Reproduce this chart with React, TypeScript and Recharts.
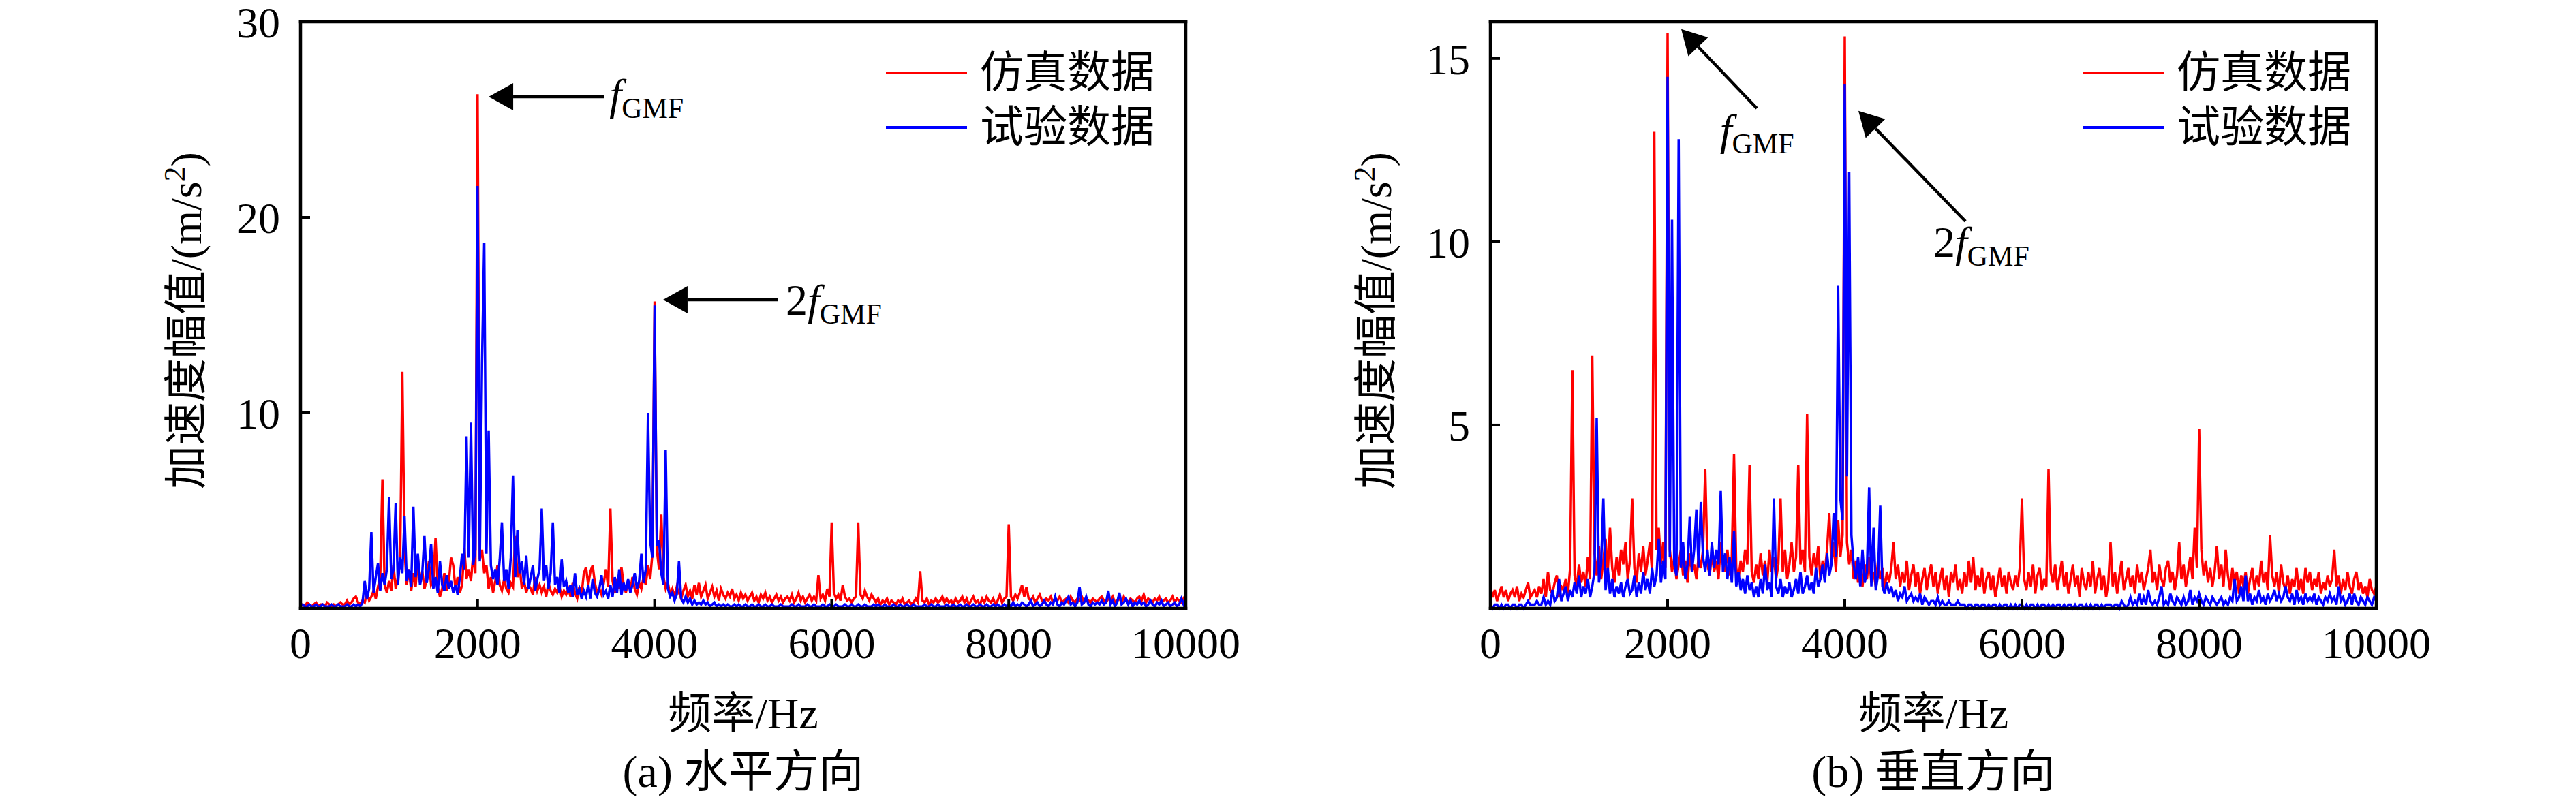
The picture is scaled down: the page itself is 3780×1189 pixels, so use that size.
import React from "react";
import {
  LineChart,
  Line,
  XAxis,
  YAxis,
  Legend,
  ReferenceLine,
  ReferenceDot
} from "recharts";

const SERIF = "'Liberation Serif', 'Times New Roman', 'Noto Sans CJK SC', serif";

// spectra are sampled on a 25 Hz grid, 0 .. 10000 Hz (401 bins)
const FREQ_STEP = 25;
const FREQ_TICKS = [0, 2000, 4000, 6000, 8000, 10000];
const SERIES_NAMES = ["仿真数据", "试验数据"];
const SERIES_COLORS = ["#ff0000", "#0000ff"];

const H_TICKS = [10, 20, 30];
const V_TICKS = [5, 10, 15];

// (a) horizontal direction, simulated
const hSim = [
  0.1, 0.2, 0.1, 0.3, 0.2, 0.1, 0.2, 0.3, 0.1, 0.2, 0.2, 0.1, 0.3, 0.2, 0.1, 0.2, 0.1, 0.2, 0.3, 0.2,
  0.2, 0.4, 0.2, 0.3, 0.5, 0.6, 0.3, 0.2, 0.4, 0.3, 0.8, 0.4, 0.6, 0.9, 0.5, 1.1, 1.6, 6.6, 1.2, 0.8,
  1.4, 0.9, 2.2, 1.0, 1.6, 2.4, 12.1, 3.0, 1.2, 2.0, 0.9, 1.8, 1.1, 2.6, 1.3, 1.9, 1.0, 1.5, 2.4, 1.2,
  1.4, 3.6, 1.1, 0.6, 1.0, 1.8, 0.9, 1.3, 2.6, 2.2, 1.0, 1.6, 0.8, 1.2, 3.1, 1.5, 2.0, 1.4, 2.7, 1.8,
  26.3, 2.5, 3.0, 1.8, 2.2, 1.0, 1.6, 0.8, 1.4, 2.2, 1.2, 0.9, 1.5, 1.0, 0.8, 1.3, 1.1, 3.7, 1.6, 2.2,
  1.0, 1.4, 0.8, 1.2, 1.0, 0.7, 1.6, 0.9, 1.2, 0.8, 1.1, 0.6, 1.3, 0.9, 0.7, 1.0, 0.8, 1.1, 0.6, 0.9,
  0.7, 1.0, 0.6, 1.3, 0.8, 0.5, 1.1, 0.7, 1.8, 2.1, 1.2, 1.9, 2.2, 1.3, 0.8, 1.0, 0.7, 1.3, 2.0, 1.1,
  5.1, 1.4, 0.8, 1.5, 1.0, 2.1, 1.2, 0.8, 1.4, 0.9, 1.6, 1.0, 0.7, 1.3, 1.0, 1.6, 1.2, 2.2, 1.5, 2.8,
  15.7, 3.0, 2.0, 4.8, 1.6, 1.0, 1.3, 0.7, 1.0, 0.6, 1.1, 0.8, 0.5, 0.9, 1.2, 0.6, 0.9, 0.5, 1.2, 0.7,
  1.3, 0.6, 0.9, 1.2, 0.5, 0.8, 1.1, 0.6, 0.9, 0.4, 1.0, 0.7, 0.5, 0.8, 0.6, 1.0, 0.5, 0.7, 0.4, 0.8,
  0.5, 0.7, 0.4, 0.6, 0.8, 0.4, 0.6, 0.3, 0.7, 0.5, 0.8, 0.4, 0.6, 0.3, 0.5, 0.7, 0.4, 0.6, 0.3, 0.5,
  0.6, 0.4, 0.7, 0.3, 0.5, 0.8, 0.4, 0.6, 0.3, 0.5, 0.7, 0.4, 0.6, 0.4, 1.7, 0.5, 0.7, 0.4, 1.0, 0.6,
  4.4, 0.8, 0.5, 0.7, 0.4, 1.2, 0.6, 0.4, 0.5, 0.3, 0.5, 0.6, 4.4, 0.7, 0.5, 0.9, 0.6, 0.4, 0.7, 0.5,
  0.3, 0.5, 0.2, 0.4, 0.3, 0.5, 0.2, 0.4, 0.3, 0.2, 0.4, 0.3, 0.5, 0.2, 0.3, 0.4, 0.2, 0.3, 0.5, 0.3,
  1.9, 0.4, 0.3, 0.5, 0.2, 0.4, 0.3, 0.5, 0.3, 0.4, 0.6, 0.3, 0.5, 0.3, 0.4, 0.2, 0.5, 0.3, 0.4, 0.6,
  0.3, 0.5, 0.2, 0.4, 0.6, 0.3, 0.4, 0.2, 0.5, 0.3, 0.6, 0.4, 0.3, 0.5, 0.2, 0.4, 0.7, 0.3, 0.5, 0.6,
  4.3, 0.6, 0.4, 0.7, 0.5, 0.8, 1.2, 0.6, 1.1, 0.5, 0.4, 0.6, 0.3, 0.5, 0.7, 0.4, 0.3, 0.5, 0.4, 0.6,
  0.3, 0.5, 0.4, 0.6, 0.3, 0.4, 0.5, 0.3, 0.6, 0.4, 0.3, 0.5, 0.4, 0.6, 0.3, 0.5, 0.4, 0.3, 0.5, 0.4,
  0.3, 0.5, 0.6, 0.4, 0.3, 0.5, 0.4, 0.6, 0.3, 0.4, 0.5, 0.3, 0.6, 0.4, 0.3, 0.5, 0.4, 0.3, 0.5, 0.6,
  0.4, 0.7, 0.3, 0.5, 0.4, 0.3, 0.5, 0.4, 0.6, 0.3, 0.4, 0.5, 0.3, 0.4, 0.6, 0.3, 0.5, 0.4, 0.3, 0.5,
  0.7
];

// (a) horizontal direction, measured
const hMeas = [
  0.1, 0.2, 0.1, 0.1, 0.2, 0.1, 0.1, 0.2, 0.1, 0.1, 0.2, 0.1, 0.1, 0.1, 0.2, 0.1, 0.1, 0.2, 0.1, 0.1,
  0.1, 0.2, 0.1, 0.1, 0.2, 0.1, 0.2, 0.1, 0.3, 1.4, 0.5, 1.0, 3.9, 0.8, 1.6, 2.3, 0.9, 1.8, 1.2, 2.0,
  5.7, 1.5, 2.0, 5.4, 1.2, 2.6, 1.8, 4.7, 1.4, 2.0, 1.1, 5.2, 1.6, 2.8, 1.2, 1.8, 3.7, 1.3, 2.0, 3.3,
  1.0, 1.6, 0.8, 2.4, 1.2, 0.9, 1.7, 1.0, 1.4, 0.8, 1.2, 0.7, 1.6, 2.8, 2.0, 8.8, 2.6, 9.5, 2.2, 3.0,
  21.6, 2.4, 12.5, 18.7, 2.8, 9.1, 2.2, 1.5, 2.0, 1.2, 2.5, 4.4, 1.4, 2.0, 1.0, 2.6, 6.8, 1.6, 4.0, 1.8,
  2.4, 1.2, 2.7, 1.0, 1.6, 2.2, 0.9, 1.5, 2.0, 5.1, 1.4, 2.2, 1.0, 1.8, 4.4, 1.2, 1.6, 0.8, 2.5, 1.1,
  1.4, 0.8, 1.2, 0.6, 1.8, 0.7, 1.0, 0.5, 0.9, 0.6, 1.2, 0.5, 1.5, 0.8, 0.6, 1.0, 1.7, 0.7, 0.9, 0.5,
  1.2, 0.6, 1.6, 0.8, 2.0, 0.7, 1.3, 0.9, 1.5, 0.8, 1.2, 1.8, 1.0, 1.4, 2.8, 1.3, 2.0, 10.0, 3.4, 2.6,
  15.5, 3.2, 3.5, 1.8, 1.2, 8.1, 1.0, 0.6, 0.8, 0.4, 0.7, 2.4, 0.5, 0.3, 0.6, 0.3, 0.5, 0.2, 0.4, 0.2,
  0.3, 0.2, 0.4, 0.2, 0.3, 0.1, 0.2, 0.3, 0.1, 0.2, 0.1, 0.2, 0.1, 0.2, 0.1, 0.1, 0.2, 0.1, 0.2, 0.1,
  0.1, 0.2, 0.1, 0.1, 0.2, 0.1, 0.1, 0.2, 0.1, 0.1, 0.2, 0.1, 0.1, 0.2, 0.1, 0.1, 0.1, 0.2, 0.1, 0.1,
  0.1, 0.1, 0.2, 0.1, 0.1, 0.2, 0.1, 0.1, 0.1, 0.2, 0.1, 0.1, 0.2, 0.1, 0.1, 0.1, 0.2, 0.1, 0.1, 0.2,
  0.1, 0.1, 0.2, 0.1, 0.1, 0.1, 0.2, 0.1, 0.1, 0.2, 0.1, 0.1, 0.2, 0.1, 0.1, 0.2, 0.1, 0.1, 0.1, 0.2,
  0.1, 0.2, 0.1, 0.1, 0.2, 0.1, 0.1, 0.1, 0.2, 0.1, 0.1, 0.2, 0.1, 0.1, 0.2, 0.1, 0.1, 0.2, 0.1, 0.1,
  0.1, 0.1, 0.2, 0.1, 0.1, 0.2, 0.1, 0.1, 0.2, 0.1, 0.1, 0.1, 0.2, 0.1, 0.1, 0.2, 0.1, 0.1, 0.2, 0.1,
  0.1, 0.2, 0.1, 0.1, 0.2, 0.1, 0.1, 0.2, 0.1, 0.1, 0.2, 0.1, 0.1, 0.2, 0.1, 0.2, 0.1, 0.1, 0.2, 0.1,
  0.2, 0.1, 0.3, 0.1, 0.2, 0.1, 0.3, 0.2, 0.1, 0.2, 0.4, 0.1, 0.2, 0.3, 0.1, 0.2, 0.4, 0.2, 0.1, 0.3,
  0.2, 0.6, 0.2, 0.1, 0.3, 0.2, 0.4, 0.6, 0.2, 0.3, 0.1, 0.3, 1.1, 0.2, 0.3, 0.6, 0.2, 0.1, 0.3, 0.2,
  0.3, 0.2, 0.4, 0.2, 0.3, 0.9, 0.2, 0.4, 0.1, 0.3, 0.8, 0.2, 0.3, 0.5, 0.2, 0.4, 0.1, 0.3, 0.2, 0.4,
  0.2, 0.3, 0.1, 0.2, 0.4, 0.2, 0.1, 0.3, 0.2, 0.4, 0.1, 0.2, 0.3, 0.1, 0.2, 0.3, 0.1, 0.2, 0.5, 0.2,
  0.6
];

// (b) vertical direction, simulated
const vSim = [
  0.6, 0.3, 0.5, 0.2, 0.4, 0.6, 0.3, 0.5, 0.2, 0.4, 0.5, 0.3, 0.6, 0.2, 0.4, 0.3, 0.5, 0.7, 0.3, 0.4,
  0.5, 0.3, 0.6, 0.4, 0.8, 0.3, 1.0, 0.5, 0.4, 0.7, 0.9, 0.3, 0.6, 0.5, 0.8, 0.4, 1.1, 6.5, 0.9, 0.6,
  1.2, 0.7, 1.0, 0.6, 1.4, 0.8, 6.9, 1.5, 0.9, 1.7, 0.8, 1.3, 1.9, 1.0, 2.2, 1.1, 0.7, 1.4, 0.9, 1.6,
  1.2, 1.8, 0.8, 1.3, 3.0, 1.1, 0.7, 1.5, 1.0, 1.7, 0.9, 1.3, 1.8, 1.0, 13.0, 1.6, 2.2, 1.2, 1.8, 1.1,
  15.7, 1.6, 1.0, 1.4, 0.8, 1.2, 1.6, 0.9, 1.3, 0.7, 1.5, 1.0, 1.2, 0.8, 1.4, 1.1, 1.6, 3.8, 1.2, 0.9,
  1.5, 1.0, 1.3, 0.8, 1.8, 1.2, 1.0, 1.6, 0.9, 1.4, 4.2, 1.1, 0.8, 1.3, 1.0, 1.6, 1.2, 3.9, 1.0, 0.7,
  1.2, 0.8, 1.5, 0.9, 1.3, 0.7, 1.6, 1.0, 1.4, 0.8, 1.2, 3.0, 1.0, 1.6, 0.8, 1.2, 1.8, 1.0, 1.4, 3.9,
  1.2, 1.6, 1.0, 5.3, 1.4, 0.9, 1.5, 1.1, 1.7, 0.8, 1.3, 1.0, 1.6, 2.6, 1.2, 1.8, 1.0, 2.4, 1.4, 2.0,
  15.6, 1.8, 1.2, 1.6, 0.8, 1.3, 0.7, 1.1, 0.6, 1.2, 0.8, 1.4, 0.7, 1.0, 0.6, 1.3, 0.8, 1.1, 0.5, 1.0,
  0.7, 1.1, 1.8, 0.8, 1.2, 0.6, 1.0, 0.7, 1.3, 0.5, 0.9, 1.2, 0.6, 1.0, 0.4, 0.8, 1.1, 0.5, 0.9, 1.2,
  0.6, 1.0, 0.4, 0.8, 1.1, 0.5, 0.9, 0.3, 1.0, 0.7, 1.2, 0.5, 0.8, 0.4, 1.0, 0.6, 1.3, 0.7, 1.4, 0.5,
  0.9, 0.6, 1.1, 0.4, 0.8, 1.0, 0.5, 0.9, 0.3, 0.7, 1.1, 0.6, 0.9, 0.4, 1.0, 0.7, 0.5, 0.9, 0.6, 1.1,
  3.0, 0.8, 0.5, 1.0, 0.6, 1.2, 0.4, 0.9, 1.1, 0.5, 0.8, 0.6, 3.8, 1.0, 0.7, 1.2, 0.5, 0.9, 1.3, 0.6,
  1.0, 0.4, 0.8, 1.2, 0.6, 0.9, 0.3, 1.1, 0.7, 0.5, 1.0, 0.6, 1.3, 0.4, 0.8, 1.1, 0.5, 0.9, 0.3, 0.7,
  1.8, 0.6, 1.0, 0.4, 0.9, 1.3, 0.5, 0.8, 1.1, 0.6, 0.9, 0.4, 1.2, 0.7, 1.0, 0.5, 0.8, 1.1, 1.6, 0.7,
  1.0, 0.5, 1.2, 0.8, 0.6, 1.1, 1.3, 0.7, 1.0, 0.5, 0.9, 1.8, 0.8, 1.2, 0.6, 1.0, 1.4, 0.8, 2.2, 1.1,
  4.9, 1.6, 0.9, 1.3, 0.7, 1.1, 0.6, 1.0, 1.7, 0.8, 1.2, 0.6, 1.6, 0.9, 0.5, 1.1, 0.7, 1.0, 0.4, 0.9,
  0.6, 1.0, 0.4, 0.8, 1.1, 0.5, 0.9, 0.6, 1.3, 0.7, 1.0, 0.5, 2.0, 0.9, 0.6, 1.0, 0.4, 1.2, 0.7, 0.5,
  0.9, 0.4, 0.8, 0.6, 1.1, 0.5, 0.8, 0.4, 1.1, 0.7, 1.0, 0.5, 0.8, 0.6, 1.0, 0.4, 0.7, 0.5, 0.9, 0.6,
  0.8, 1.6, 0.6, 0.9, 0.4, 0.8, 0.5, 1.0, 0.6, 0.4, 0.8, 1.0, 0.5, 0.7, 0.4, 0.6, 0.3, 0.8, 0.5, 0.4,
  0.6
];

// (b) vertical direction, measured
const vMeas = [
  0.1, 0.0, 0.1, 0.1, 0.0, 0.1, 0.0, 0.1, 0.1, 0.0, 0.1, 0.1, 0.0, 0.1, 0.1, 0.0, 0.1, 0.2, 0.1, 0.1,
  0.1, 0.2, 0.1, 0.1, 0.3, 0.1, 0.2, 0.1, 0.5, 0.2, 0.3, 0.8, 0.2, 0.4, 0.6, 0.2, 0.5, 0.3, 0.7, 0.4,
  0.9, 0.3, 0.6, 0.4, 0.8, 0.3, 0.6, 1.0, 5.2, 0.7, 1.2, 3.0, 0.5, 1.1, 0.4, 0.8, 0.3, 0.6, 0.4, 0.7,
  0.3, 0.6, 0.8, 0.4, 0.5, 0.9, 0.3, 0.7, 0.4, 1.0, 0.5, 0.8, 0.4, 1.1, 0.6, 0.9, 1.9, 0.7, 1.3, 0.8,
  14.5, 1.4, 10.6, 1.2, 0.9, 12.8, 1.1, 1.8, 0.8, 1.2, 2.5, 1.0, 1.6, 2.7, 1.1, 2.9, 1.4, 1.0, 1.6, 0.9,
  1.8, 1.1, 1.6, 1.2, 3.2, 1.0, 1.5, 0.8, 1.4, 0.7, 2.1, 0.6, 1.0, 0.5, 0.8, 0.4, 0.9, 0.5, 0.7, 0.3,
  0.6, 0.3, 0.8, 0.4, 1.2, 0.5, 0.7, 0.3, 3.0, 0.6, 0.4, 0.8, 0.3, 0.6, 0.4, 0.7, 0.3, 0.5, 0.8, 0.4,
  1.0, 0.4, 0.6, 0.9, 0.5, 0.7, 0.4, 1.1, 0.6, 0.8, 1.2, 0.7, 1.5, 0.9, 1.2, 2.6, 1.4, 8.8, 3.0, 2.4,
  14.3, 3.6, 11.9, 2.0, 1.2, 0.8, 1.4, 0.6, 1.6, 0.7, 1.0, 3.3, 0.6, 2.2, 0.5, 0.9, 2.8, 0.6, 0.4, 0.7,
  0.4, 0.6, 0.3, 0.5, 0.2, 0.4, 0.3, 0.6, 0.2, 0.3, 0.4, 0.2, 0.3, 0.2, 0.4, 0.1, 0.3, 0.2, 0.1, 0.2,
  0.2, 0.1, 0.3, 0.1, 0.2, 0.1, 0.1, 0.2, 0.1, 0.1, 0.1, 0.2, 0.1, 0.1, 0.1, 0.0, 0.1, 0.1, 0.0, 0.1,
  0.1, 0.0, 0.1, 0.1, 0.0, 0.1, 0.0, 0.1, 0.1, 0.0, 0.1, 0.0, 0.1, 0.1, 0.0, 0.1, 0.0, 0.1, 0.0, 0.1,
  0.1, 0.0, 0.1, 0.0, 0.1, 0.1, 0.0, 0.1, 0.0, 0.1, 0.1, 0.0, 0.1, 0.0, 0.1, 0.0, 0.1, 0.1, 0.0, 0.1,
  0.0, 0.1, 0.1, 0.0, 0.1, 0.0, 0.1, 0.1, 0.0, 0.1, 0.0, 0.1, 0.0, 0.1, 0.1, 0.0, 0.1, 0.0, 0.1, 0.1,
  0.1, 0.0, 0.1, 0.1, 0.0, 0.2, 0.1, 0.0, 0.1, 0.3, 0.1, 0.2, 0.1, 0.4, 0.1, 0.3, 0.1, 0.5, 0.2, 0.1,
  0.2, 0.1, 0.3, 0.6, 0.1, 0.2, 0.1, 0.4, 0.2, 0.1, 0.3, 0.2, 0.1, 0.3, 0.1, 0.2, 0.5, 0.1, 0.3, 0.2,
  0.4, 0.2, 0.1, 0.3, 0.2, 0.1, 0.3, 0.2, 0.1, 0.2, 0.3, 0.1, 0.2, 0.1, 0.3, 0.2, 0.8, 0.2, 0.3, 0.6,
  0.2, 0.9, 0.2, 0.4, 0.1, 0.3, 0.2, 0.5, 0.2, 0.3, 0.1, 0.4, 0.2, 0.3, 0.5, 0.2, 0.4, 0.2, 0.3, 0.6,
  0.3, 0.2, 0.4, 0.1, 0.5, 0.2, 0.3, 0.1, 0.4, 0.2, 0.3, 0.2, 0.4, 0.1, 0.3, 0.2, 0.1, 0.3, 0.2, 0.4,
  0.2, 0.3, 0.1, 0.6, 0.2, 0.3, 0.1, 0.2, 0.4, 0.1, 0.4, 0.2, 0.1, 0.3, 0.2, 0.1, 0.3, 0.2, 0.1, 0.3,
  0.2
];

// annotation arrows (tip -> tail) and their labels, in data units (Hz, m/s^2)
const H_ARROWS = [
  { tip: { x: 2125, y: 26.17 }, tail: { x: 3433, y: 26.17 } },
  { tip: { x: 4095, y: 15.78 }, tail: { x: 5396, y: 15.78 } }
];
const H_MARKS = [
  { x: 3490, y: 25.54, prefix: "" },
  { x: 5481, y: 15.02, prefix: "2" }
];
const V_ARROWS = [
  { tip: { x: 2154, y: 15.8 }, tail: { x: 3008, y: 13.64 } },
  { tip: { x: 4154, y: 13.57 }, tail: { x: 5362, y: 10.56 } }
];
const V_MARKS = [
  { x: 2590, y: 12.66, prefix: "" },
  { x: 5000, y: 9.59, prefix: "2" }
];

const AXIS_LINE = { stroke: "#000", strokeWidth: 4.5, strokeLinecap: "square" };
const TICK_LINE = { stroke: "#000", strokeWidth: 4 };
const TICK_TEXT = { fill: "#000", fontSize: 64, fontFamily: SERIF };

const HEAD_LEN = 36;
const HEAD_HALF = 20;

function ArrowShape(props: any) {
  const { x1, y1, x2, y2 } = props;
  const dx = x2 - x1;
  const dy = y2 - y1;
  const len = Math.hypot(dx, dy) || 1;
  const ux = dx / len;
  const uy = dy / len;
  const bx = x1 + ux * HEAD_LEN;
  const by = y1 + uy * HEAD_LEN;
  const px = -uy * HEAD_HALF;
  const py = ux * HEAD_HALF;
  return (
    <g>
      <line x1={bx} y1={by} x2={x2} y2={y2} stroke="#000" strokeWidth={4.5} />
      <polygon
        points={`${x1},${y1} ${bx + px},${by + py} ${bx - px},${by - py}`}
        fill="#000"
      />
    </g>
  );
}

const harmonicLabel = (prefix: string) => (p: any) => (
  <text x={p.cx} y={p.cy} fontFamily={SERIF} fontSize={64} fill="#000">
    {prefix ? <tspan>{prefix}</tspan> : null}
    <tspan fontStyle="italic">f</tspan>
    <tspan fontSize={42} dy={13}>GMF</tspan>
  </text>
);

const xTitles = (caption: string) => (props: any) => {
  const vb = props.viewBox;
  const cx = vb.x + vb.width / 2;
  return (
    <g>
      <text x={cx} y={vb.y + 176} textAnchor="middle" fontFamily={SERIF} fontSize={64} fill="#000">
        频率/Hz
      </text>
      <text x={cx} y={vb.y + 262} textAnchor="middle" fontFamily={SERIF} fontSize={66} fill="#000">
        {caption}
      </text>
    </g>
  );
};

const yTitle = (props: any) => {
  const vb = props.viewBox;
  const x = vb.x + vb.width - 146;
  const y = vb.y + vb.height / 2 + 8;
  return (
    <text
      x={x}
      y={y}
      transform={`rotate(-90 ${x} ${y})`}
      textAnchor="middle"
      fontFamily={SERIF}
      fontSize={64}
      fill="#000"
    >
      加速度幅值/(m/s
      <tspan fontSize={44} dy={-24}>2</tspan>
      <tspan dy={24}>)</tspan>
    </text>
  );
};

function LegendBox() {
  return (
    <div style={{ fontFamily: SERIF, fontSize: 64, color: "#000" }}>
      {SERIES_NAMES.map((name, i) => (
        <div key={name} style={{ display: "flex", alignItems: "center", height: 80 }}>
          <span
            style={{
              display: "inline-block",
              width: 119,
              height: 4,
              background: SERIES_COLORS[i],
              marginRight: 19
            }}
          />
          <span style={{ lineHeight: "80px" }}>{name}</span>
        </div>
      ))}
    </div>
  );
}

interface PanelProps {
  sim: number[];
  meas: number[];
  yMax: number;
  yTicks: number[];
  caption: string;
  arrows: { tip: { x: number; y: number }; tail: { x: number; y: number } }[];
  marks: { x: number; y: number; prefix: string }[];
  marginLeft: number;
  marginRight: number;
  legendLeft: number;
}

function Panel({ sim, meas, yMax, yTicks, caption, arrows, marks, marginLeft, marginRight, legendLeft }: PanelProps) {
  const rows = sim.map((v, i) => ({ f: i * FREQ_STEP, sim: v, meas: meas[i] }));

  return (
    <LineChart
      width={1890}
      height={1189}
      data={rows}
      margin={{ top: 22, right: marginRight, bottom: 146, left: marginLeft }}
    >
      <XAxis
        dataKey="f"
        type="number"
        domain={[0, 10000]}
        ticks={FREQ_TICKS}
        interval={0}
        height={150}
        tickSize={-14}
        tickMargin={42}
        axisLine={AXIS_LINE}
        tickLine={TICK_LINE}
        tick={TICK_TEXT}
        label={xTitles(caption)}
      />
      <XAxis
        xAxisId="top"
        orientation="top"
        dataKey="f"
        type="number"
        domain={[0, 10000]}
        ticks={FREQ_TICKS}
        interval={0}
        height={10}
        tickSize={-14}
        axisLine={AXIS_LINE}
        tickLine={TICK_LINE}
        tick={false}
      />
      <YAxis
        type="number"
        domain={[0, yMax]}
        ticks={yTicks}
        interval={0}
        width={120}
        tickSize={-14}
        tickMargin={44}
        axisLine={AXIS_LINE}
        tickLine={TICK_LINE}
        tick={TICK_TEXT}
        label={yTitle}
      />
      <YAxis
        yAxisId="right"
        orientation="right"
        type="number"
        domain={[0, yMax]}
        ticks={yTicks}
        interval={0}
        width={20}
        tickSize={-14}
        axisLine={AXIS_LINE}
        tickLine={TICK_LINE}
        tick={false}
      />
      <Line
        dataKey="sim"
        name={SERIES_NAMES[0]}
        stroke={SERIES_COLORS[0]}
        strokeWidth={3.5}
        dot={false}
        isAnimationActive={false}
      />
      <Line
        dataKey="meas"
        name={SERIES_NAMES[1]}
        stroke={SERIES_COLORS[1]}
        strokeWidth={3.5}
        dot={false}
        isAnimationActive={false}
      />
      {arrows.map((a, i) => (
        <ReferenceLine
          key={`arrow-${i}`}
          segment={[a.tip, a.tail]}
          ifOverflow="visible"
          shape={ArrowShape}
        />
      ))}
      {marks.map((m, i) => (
        <ReferenceDot
          key={`mark-${i}`}
          x={m.x}
          y={m.y}
          r={1}
          ifOverflow="visible"
          shape={harmonicLabel(m.prefix)}
        />
      ))}
      <Legend
        layout="vertical"
        align="center"
        verticalAlign="middle"
        wrapperStyle={{ left: legendLeft, top: 67, width: "auto", height: "auto" }}
        content={() => <LegendBox />}
      />
    </LineChart>
  );
}

export default function App() {
  return (
    <div
      style={{
        position: "absolute",
        left: 0,
        top: 0,
        width: 3780,
        height: 1189,
        background: "#fff",
        display: "flex"
      }}
    >
      <Panel
        sim={hSim}
        meas={hMeas}
        yMax={30}
        yTicks={H_TICKS}
        caption="(a) 水平方向"
        arrows={H_ARROWS}
        marks={H_MARKS}
        marginLeft={321}
        marginRight={130}
        legendLeft={1300}
      />
      <Panel
        sim={vSim}
        meas={vMeas}
        yMax={16}
        yTicks={V_TICKS}
        caption="(b) 垂直方向"
        arrows={V_ARROWS}
        marks={V_MARKS}
        marginLeft={177}
        marginRight={273}
        legendLeft={1166}
      />
    </div>
  );
}
